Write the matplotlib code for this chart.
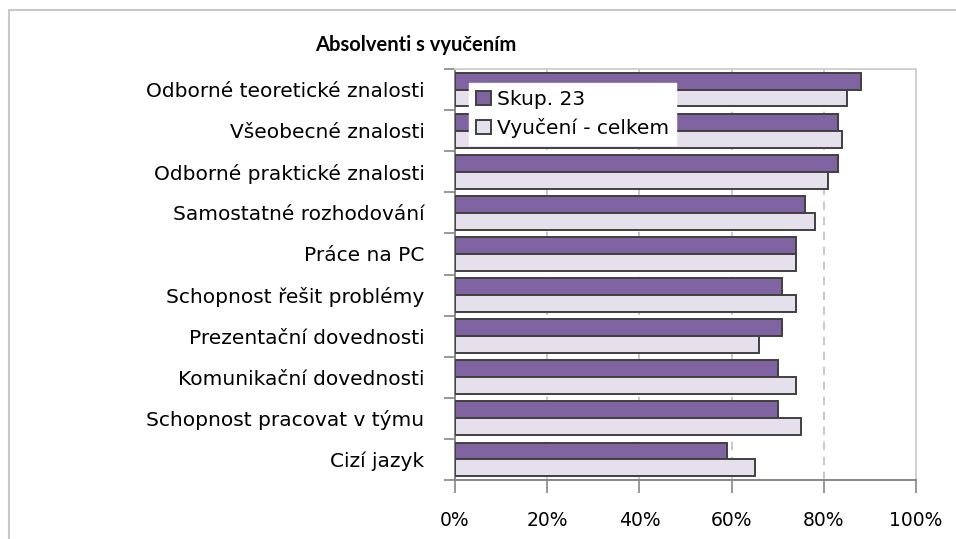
import numpy as np
import matplotlib.pyplot as plt
from matplotlib.patches import Rectangle

# data (top to bottom)
categories = ["Odborné teoretické znalosti", "Všeobecné znalosti",
              "Odborné praktické znalosti", "Samostatné rozhodování",
              "Práce na PC", "Schopnost řešit problémy",
              "Prezentační dovednosti", "Komunikační dovednosti",
              "Schopnost pracovat v týmu", "Cizí jazyk"]
skup23 = [88, 83, 83, 76, 74, 71, 71, 70, 70, 59]
celkem = [85, 84, 81, 78, 74, 74, 66, 74, 75, 65]
series_names = ["Skup. 23", "Vyučení - celkem"]
xticks = [0, 20, 40, 60, 80, 100]

plt.rcParams['font.family'] = ['DejaVu Sans']

fig = plt.figure(figsize=(9.56, 5.39), dpi=100)
ax = fig.add_axes([455/956, 1-480/539, 461/956, 411/539])

# outer chart border (only left and top are inside the picture)
fig.patches.append(Rectangle((9/956, -0.5), 2, 1.5-10/539, transform=fig.transFigure,
                             fill=False, edgecolor='#c8c8c8', linewidth=1.5))

n = len(categories)
pos = np.arange(n)[::-1]
h = 0.41
ax.barh(pos + h/2, skup23, height=h, color='#8064a2', edgecolor='#404040',
        linewidth=1.4, label=series_names[0], zorder=3)
ax.barh(pos - h/2, celkem, height=h, color='#e6e0ec', edgecolor='#404040',
        linewidth=1.4, label=series_names[1], zorder=3)

ax.set_xlim(0, 100)
ax.set_ylim(-0.5, n - 0.5)
ax.set_xticks(xticks)
ax.set_xticklabels([f"{t}%" for t in xticks], fontsize=13.5)
ax.set_yticks(pos)
ax.set_yticklabels(categories, fontsize=14.5)
ax.set_yticks(np.arange(-0.5, n, 1), minor=True)
ax.tick_params(axis='y', which='major', length=0, pad=22)
ax.tick_params(axis='y', which='minor', length=8, color='#868686', width=1.2)
ax.tick_params(axis='x', length=9, color='#868686', width=1.2, pad=13)

for t in xticks[1:-1]:
    ax.axvline(t, color='#bfbfbf', linestyle=(0, (5, 4)), linewidth=1.2, zorder=1)

for s in ['left', 'bottom']:
    ax.spines[s].set_color('#868686')
    ax.spines[s].set_linewidth(1.4)
for s in ['top', 'right']:
    ax.spines[s].set_color('#d0d0d0')
    ax.spines[s].set_linewidth(1.4)

ax.text(416/956, 1-45/539, "Absolventi s vyučením", transform=fig.transFigure,
        ha='center', va='center', fontsize=14.5, fontweight='bold',
        family=['Lato', 'DejaVu Sans'])

leg = ax.legend(loc='upper left', bbox_to_anchor=(0.03, 0.966), fontsize=14.5,
                frameon=True, fancybox=False, framealpha=1, edgecolor='white',
                handlelength=0.75, handleheight=0.75, handletextpad=0.3,
                borderpad=0.35, labelspacing=0.45, borderaxespad=0)
leg.set_zorder(5)

fig.savefig("out.png", dpi=100)
